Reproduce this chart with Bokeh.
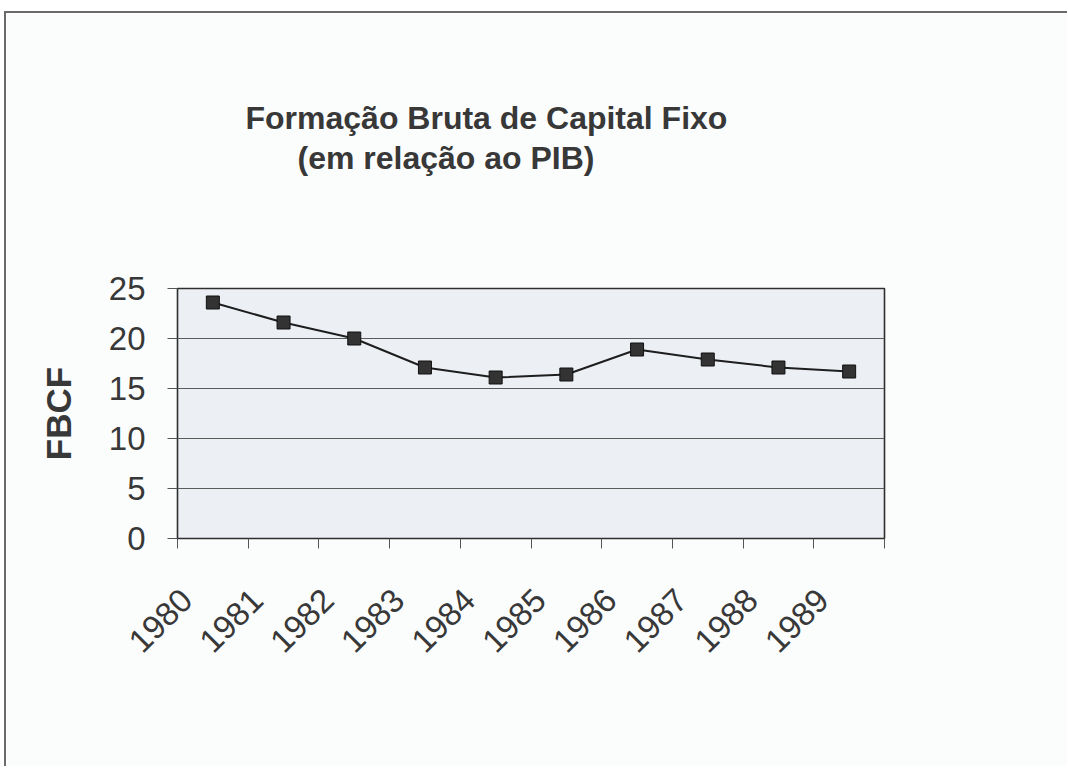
import math
from bokeh.plotting import figure
from bokeh.models import FixedTicker, Title, Range1d, LinearAxis
from bokeh.embed import file_html
from bokeh.resources import INLINE

years = ["1980", "1981", "1982", "1983", "1984", "1985", "1986", "1987", "1988", "1989"]
fbcf = [23.6, 21.6, 20.0, 17.1, 16.1, 16.4, 18.9, 17.9, 17.1, 16.7]
y_ticks = [0, 5, 10, 15, 20, 25]
title_line1 = "Formação Bruta de Capital Fixo"
title_line2 = "(em relação ao PIB)"
y_label = "FBCF"

FONT = "Liberation Sans"
TEXT = "#383838"
PAGE = "#fbfdfd"

xs = [i + 0.5 for i in range(len(years))]

p = figure(
    frame_width=707, frame_height=250,
    min_border_left=171, min_border_top=275, min_border_right=183, min_border_bottom=228,
    x_range=Range1d(0, len(years)), y_range=Range1d(0, 25),
    output_backend="svg", toolbar_location=None,
    background_fill_color="#eceff4", border_fill_color=PAGE,
    outline_line_color="#2e2e2e", outline_line_width=1.6,
)
p.styles = {"border-top": "2px solid #6a6a6a", "border-left": "2px solid #6a6a6a",
            "margin-top": "11px", "margin-left": "4px"}

p.title.text = title_line1
p.title.align = "left"
p.title.offset = 68
p.title.standoff = 0
p.title.text_font = FONT
p.title.text_font_style = "bold"
p.title.text_font_size = "32px"
p.title.text_color = TEXT

# blank space between the subtitle and the plot area (nearest to the frame)
spacer = Title(text=" ", standoff=108, text_font_size="1px", text_color=PAGE)
p.add_layout(spacer, "above")

t2 = Title(text=title_line2, align="left", offset=120, standoff=4,
           text_font=FONT, text_font_style="bold", text_font_size="32px", text_color=TEXT)
p.add_layout(t2, "above")

# grid
p.xgrid.grid_line_color = None
p.ygrid.ticker = FixedTicker(ticks=y_ticks)
p.ygrid.grid_line_color = "#5a5a5a"
p.ygrid.grid_line_width = 1

# y axis
p.yaxis.ticker = FixedTicker(ticks=y_ticks)
p.yaxis.axis_label = y_label
p.yaxis.axis_label_text_font = FONT
p.yaxis.axis_label_text_font_style = "bold"
p.yaxis.axis_label_text_font_size = "35px"
p.yaxis.axis_label_text_color = TEXT
p.yaxis.axis_label_standoff = 28
p.yaxis.major_label_text_font = FONT
p.yaxis.major_label_text_font_size = "33px"
p.yaxis.major_label_text_color = TEXT
p.yaxis.major_label_standoff = 22
p.yaxis.major_tick_out = 10
p.yaxis.major_tick_in = 0
p.yaxis.minor_tick_line_color = None
p.yaxis.axis_line_color = "#2e2e2e"
p.yaxis.major_tick_line_color = "#555555"

# x axis nearest the frame: tick marks at the category boundaries, no labels
n = len(years)
p.xaxis.ticker = FixedTicker(ticks=list(range(n + 1)))
p.xaxis.major_label_overrides = {i: "" for i in range(n + 1)}
p.xaxis.major_label_standoff = 0
p.xaxis.major_tick_out = 10
p.xaxis.major_tick_in = 0
p.xaxis.minor_tick_line_color = None
p.xaxis.axis_line_color = "#2e2e2e"
p.xaxis.major_tick_line_color = "#555555"

# second x axis: the rotated year labels
shift = 0.125
label_pos = [i + shift for i in range(n)]
lab_axis = LinearAxis(
    ticker=FixedTicker(ticks=label_pos),
    major_label_overrides={pos: yr for pos, yr in zip(label_pos, years)},
    major_label_orientation=math.pi / 4,
    major_label_text_font=FONT,
    major_label_text_font_size="33px",
    major_label_text_color=TEXT,
    major_label_standoff=46,
    major_tick_out=0, major_tick_in=0,
    major_tick_line_color=None, minor_tick_line_color=None,
    axis_line_color=None,
)
p.add_layout(lab_axis, "below")

p.line(xs, fbcf, line_color="#1e1e1e", line_width=2)
p.scatter(xs, fbcf, marker="square", size=13, fill_color="#333333", line_color="#111111", line_width=1)

open("out.html", "w").write(file_html(p, INLINE))
